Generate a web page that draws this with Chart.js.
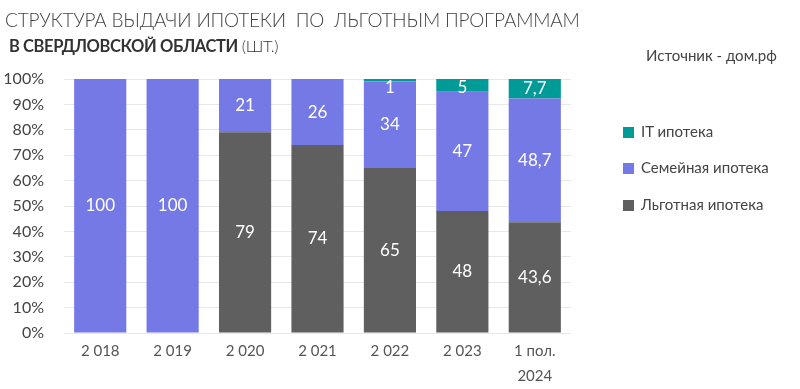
<!DOCTYPE html>
<html>
<head>
<meta charset="utf-8">
<script src="https://cdn.jsdelivr.net/npm/chart.js@4"></script>
<style>
  html, body { margin: 0; padding: 0; background: #fff; }
  #wrap { position: relative; width: 800px; height: 389px; font-family: Lato, sans-serif; color: #444; }
  #c { position: absolute; left: 0; top: 0; }
  .t1 { position: absolute; left: 5px; top: 8px; font-size: 19px; font-weight: 300; white-space: pre; letter-spacing: -0.2px; color: #444; }
  .t2 { position: absolute; left: 9px; top: 36px; font-size: 16.5px; white-space: pre; color: #333; letter-spacing: -0.4px; }
  .t2 b { font-weight: 700; }
  .t2 span { font-weight: 300; }
  .src { position: absolute; left: 646px; top: 46px; font-size: 15px; color: #444; white-space: pre; }
  .leg { position: absolute; left: 623px; font-size: 15px; color: #444; white-space: pre; }
  .leg i { display: inline-block; width: 11px; height: 11px; margin-right: 7px; vertical-align: -1px; }
</style>
</head>
<body>
<div id="wrap">
  <canvas id="c" width="800" height="389"></canvas>
  <div class="t1">СТРУКТУРА ВЫДАЧИ ИПОТЕКИ  ПО  ЛЬГОТНЫМ ПРОГРАММАМ</div>
  <div class="t2"><b>В СВЕРДЛОВСКОЙ ОБЛАСТИ</b><span> (ШТ.)</span></div>
  <div class="src">Источник - дом.рф</div>
  <div id="legend"></div>
</div>
<script>
const categories = [["2 018"], ["2 019"], ["2 020"], ["2 021"], ["2 022"], ["2 023"], ["1 пол.", "2024"]];
const lgotnaya = [null, null, 79, 74, 65, 48, 43.6];
const semeynaya = [100, 100, 21, 26, 34, 47, 48.7];
const itIpoteka = [null, null, null, null, 1, 5, 7.7];
const yTicks = [0, 10, 20, 30, 40, 50, 60, 70, 80, 90, 100];

const seriesNames = ["Льготная ипотека", "Семейная ипотека", "IT ипотека"];
const seriesColors = ["#5f5f5f", "#7579e6", "#009b96"];

const labelPlugin = {
  id: 'barLabels',
  afterDatasetsDraw(chart) {
    const ctx = chart.ctx;
    ctx.save();
    ctx.fillStyle = '#fff';
    ctx.font = '17px Lato, sans-serif';
    ctx.textAlign = 'center';
    ctx.textBaseline = 'middle';
    chart.data.datasets.forEach((ds, di) => {
      const meta = chart.getDatasetMeta(di);
      meta.data.forEach((bar, i) => {
        const v = ds.data[i];
        if (v == null) return;
        const top = Math.min(bar.y, bar.base);
        const center = (bar.y + bar.base) / 2;
        const y = Math.max(center, top + 9);
        ctx.fillText(String(v).replace('.', ','), bar.x, y);
      });
    });
    ctx.restore();
  }
};

const chart = new Chart(document.getElementById('c'), {
  type: 'bar',
  data: {
    labels: categories,
    datasets: [
      { label: seriesNames[0], data: lgotnaya, backgroundColor: seriesColors[0] },
      { label: seriesNames[1], data: semeynaya, backgroundColor: seriesColors[1] },
      { label: seriesNames[2], data: itIpoteka, backgroundColor: seriesColors[2] }
    ]
  },
  options: {
    responsive: false,
    animation: false,
    layout: { padding: { left: 0, right: 229, top: 79, bottom: 0 } },
    datasets: { bar: { barPercentage: 0.72, categoryPercentage: 1 } },
    plugins: { legend: { display: false }, tooltip: { enabled: false } },
    scales: {
      x: {
        stacked: true,
        grid: { display: false },
        border: { display: false },
        ticks: { color: '#555', font: { family: 'Lato', size: 15, lineHeight: 1.7 }, padding: -3, maxRotation: 0 },
        afterFit(s) { s.height = 56; }
      },
      y: {
        stacked: true,
        min: 0, max: 100,
        afterBuildTicks(s) { s.ticks = yTicks.map(v => ({ value: v })); },
        grid: { color: '#e8e8e8', drawTicks: false },
        border: { display: false },
        ticks: { color: '#444', font: { family: 'Lato', size: 16 }, padding: 20, callback: v => v + '%' },
        afterFit(s) { s.width = 64; }
      }
    }
  },
  plugins: [labelPlugin]
});

const legendEl = document.getElementById('legend');
const legendTops = [122, 158, 195];
[2, 1, 0].forEach((idx, k) => {
  const d = document.createElement('div');
  d.className = 'leg';
  d.style.top = legendTops[k] + 'px';
  d.innerHTML = '<i style="background:' + seriesColors[idx] + '"></i>' + seriesNames[idx];
  legendEl.appendChild(d);
});
</script>
</body>
</html>
